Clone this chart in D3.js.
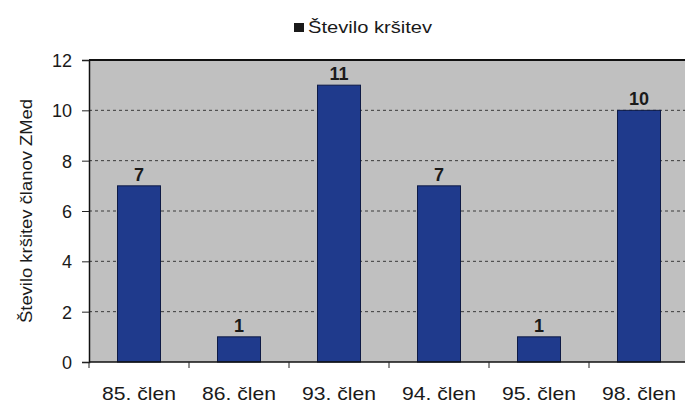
<!DOCTYPE html>
<html>
<head>
<meta charset="utf-8">
<script src="https://cdn.jsdelivr.net/npm/d3@7"></script>
<style>
  body { margin: 0; background: #fff; }
  text { font-family: "Liberation Sans", Arial, sans-serif; fill: #1a1a1a; }
</style>
</head>
<body>
<div id="chart"></div>
<script>
// podatki
var categories = ['85. člen', '86. člen', '93. člen', '94. člen', '95. člen', '98. člen'];
var values = [7, 1, 11, 7, 1, 10];
var yTicks = [0, 2, 4, 6, 8, 10, 12];
var seriesName = 'Število kršitev';
var yTitle = 'Število kršitev članov ZMed';

var width = 685, height = 403;
var margin = {top: 60, right: -4, bottom: 41, left: 89};

var svg = d3.select('#chart')
    .append('svg')
    .attr('width', width)
    .attr('height', height);

var x = d3.scaleBand()
    .domain(categories)
    .range([margin.left, width - margin.right])
    .paddingInner(0.57)
    .paddingOuter(0.285);

var y = d3.scaleLinear()
    .domain([0, 12])
    .range([height - margin.bottom, margin.top]);

// ozadje risalne ploskve
svg.append('rect')
    .attr('x', margin.left)
    .attr('y', margin.top)
    .attr('width', width - margin.right - margin.left)
    .attr('height', y(0) - margin.top)
    .attr('fill', '#c0c0c0');

// mreža
svg.append('g').selectAll('line')
    .data(yTicks.filter(function(d) { return d > 0 && d < 12; }))
    .enter().append('line')
    .attr('x1', margin.left)
    .attr('x2', width)
    .attr('y1', function(d) { return y(d); })
    .attr('y2', function(d) { return y(d); })
    .attr('stroke', '#3a3a3a')
    .attr('stroke-width', 1)
    .attr('stroke-dasharray', '3,3');

// zgornji rob
svg.append('line')
    .attr('x1', margin.left).attr('x2', width)
    .attr('y1', margin.top).attr('y2', margin.top)
    .attr('stroke', '#111').attr('stroke-width', 2);

// stolpci
svg.append('g').selectAll('rect')
    .data(values)
    .enter().append('rect')
    .attr('x', function(d, i) { return x(categories[i]); })
    .attr('y', function(d) { return y(d); })
    .attr('width', x.bandwidth())
    .attr('height', function(d) { return y(0) - y(d); })
    .attr('fill', '#1f3a8c')
    .attr('stroke', '#0d1a45')
    .attr('stroke-width', 1);

// oznake vrednosti
svg.append('g').selectAll('text')
    .data(values)
    .enter().append('text')
    .attr('x', function(d, i) { return x(categories[i]) + x.bandwidth() / 2; })
    .attr('y', function(d) { return y(d) - 5; })
    .attr('text-anchor', 'middle')
    .style('font-size', '18px')
    .style('font-weight', 'bold')
    .text(function(d) { return d; });

// os y
var yAxis = svg.append('g')
    .attr('transform', 'translate(' + margin.left + ',0)')
    .call(d3.axisLeft(y).tickValues(yTicks).tickSize(7).tickPadding(10));
yAxis.selectAll('text').style('font-size', '18px').attr('dy', '0.36em');
yAxis.selectAll('line').attr('stroke', '#222');
yAxis.select('.domain').attr('stroke', '#111').attr('stroke-width', 1.5);

// os x
var xEdges = d3.scaleLinear()
    .domain([0, categories.length])
    .range([margin.left, width - margin.right]);
var xAxis = svg.append('g')
    .attr('transform', 'translate(0,' + y(0) + ')');
xAxis.append('line')
    .attr('x1', margin.left).attr('x2', width)
    .attr('stroke', '#111').attr('stroke-width', 1.5);
xAxis.selectAll('.tk')
    .data(d3.range(categories.length + 1))
    .enter().append('line')
    .attr('class', 'tk')
    .attr('x1', function(d) { return xEdges(d); })
    .attr('x2', function(d) { return xEdges(d); })
    .attr('y1', 0).attr('y2', 6)
    .attr('stroke', '#222');
xAxis.selectAll('text')
    .data(categories)
    .enter().append('text')
    .attr('x', function(d) { return x(d) + x.bandwidth() / 2; })
    .attr('y', 38)
    .attr('text-anchor', 'middle')
    .attr('textLength', 74)
    .attr('lengthAdjust', 'spacingAndGlyphs')
    .style('font-size', '19px')
    .text(function(d) { return d; });

// naslov osi y
svg.append('text')
    .attr('transform', 'translate(32,' + ((margin.top + y(0)) / 2) + ') rotate(-90)')
    .attr('text-anchor', 'middle')
    .attr('textLength', 224)
    .attr('lengthAdjust', 'spacingAndGlyphs')
    .style('font-size', '17px')
    .text(yTitle);

// legenda
var legend = svg.append('g').attr('transform', 'translate(294,23)');
legend.append('rect')
    .attr('width', 10).attr('height', 9)
    .attr('fill', '#1a1a1a');
legend.append('text')
    .attr('x', 14).attr('y', 9.5)
    .attr('textLength', 124)
    .attr('lengthAdjust', 'spacingAndGlyphs')
    .style('font-size', '17px')
    .text(seriesName);
</script>
</body>
</html>
